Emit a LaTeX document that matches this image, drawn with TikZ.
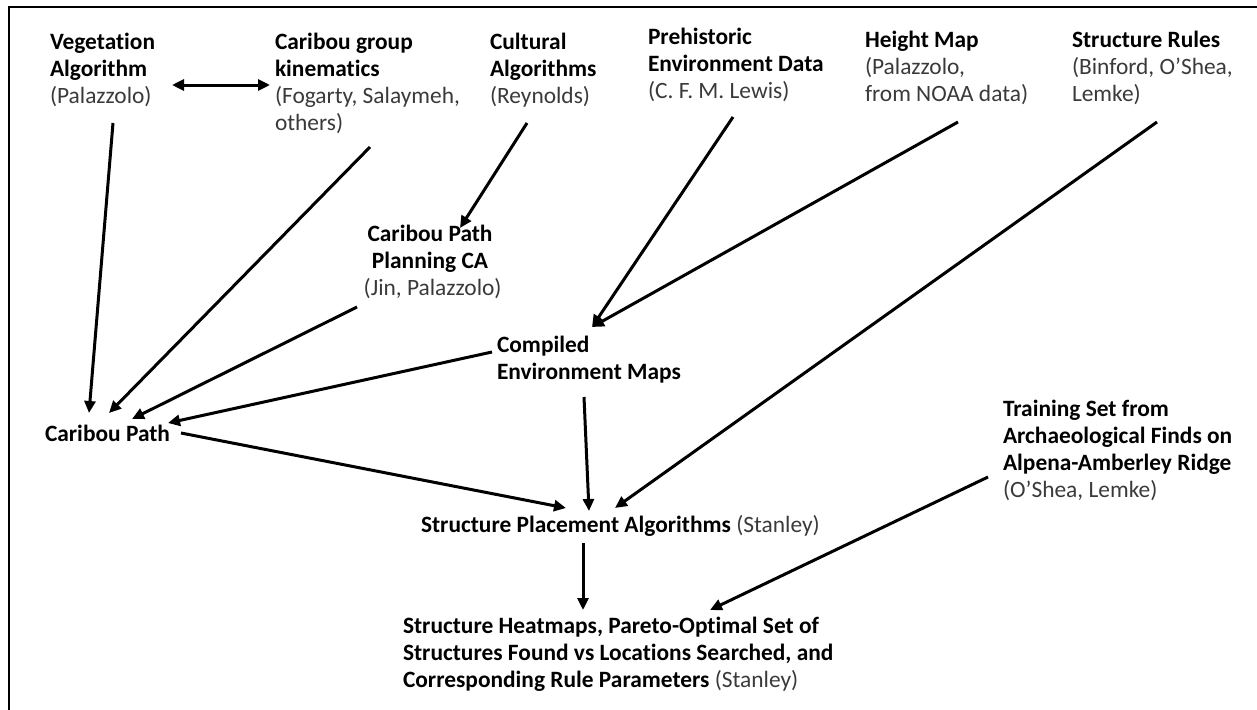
\documentclass[tikz,border=0pt]{standalone}
\usepackage{fontspec}
\setmainfont{Carlito}[Ligatures={NoCommon}]
\usetikzlibrary{arrows.meta}
\definecolor{paren}{HTML}{3A3A3A}
\newcommand{\pr}[1]{\textmd{\color{paren}#1}}
\begin{document}
\begin{tikzpicture}[x=1pt,y=-1pt,
  lbl/.style={inner sep=0pt, outer sep=0pt, align=left, anchor=north west,
    font={\fontsize{23.4}{27}\selectfont\bfseries},
    execute at begin node={\rule{0pt}{20pt}}},
  arr/.style={line width=3pt, -{Triangle[length=12pt,width=11pt]}},
  darr/.style={line width=3pt, {Triangle[length=12pt,width=11pt]}-{Triangle[length=12pt,width=11pt]}}]
\useasboundingbox (0,0) rectangle (1257,709);
\fill[white] (0,0) rectangle (1257,709);
\draw[line width=2.2pt] (9,720) -- (9,7) -- (1270,7);

\node[lbl] (veg) at (50,33) {Vegetation\\Algorithm\\\pr{(Palazzolo)}};
\node[lbl] (kin) at (275,33) {Caribou group\\kinematics\\\pr{(Fogarty, Salaymeh,}\\\pr{others)}};
\node[lbl] (cult) at (490,33) {Cultural\\Algorithms\\\pr{(Reynolds)}};
\node[lbl] (preh) at (648,28) {Prehistoric\\Environment Data\\\pr{(C. F. M. Lewis)}};
\node[lbl] (height) at (865,31) {Height Map\\\pr{(Palazzolo,}\\\pr{from NOAA data)}};
\node[lbl] (rules) at (1072,31) {Structure Rules\\\pr{(Binford, O'Shea,}\\\pr{Lemke)}};
\node[lbl, align=center, anchor=north] (cppca) at (430,225) {Caribou Path\\Planning CA\\\pr{\ (Jin, Palazzolo)}};
\node[lbl] (comp) at (497,336) {Compiled\\Environment Maps};
\node[lbl] (cpath) at (45,421) {Caribou Path};
\node[lbl] (sp) at (421,512) {Structure Placement Algorithms \pr{(Stanley)}};
\node[lbl] (train) at (1003,400) {Training Set from\\Archaeological Finds on\\Alpena-Amberley Ridge\\\pr{(O'Shea, Lemke)}};
\node[lbl] (final) at (403,617) {Structure Heatmaps, Pareto-Optimal Set of\\Structures Found vs Locations Searched, and\\Corresponding Rule Parameters \pr{(Stanley)}};

\draw[darr] ([shift={(122,52)}]veg.north west) -- ([shift={(-5,52)}]kin.north west);
\draw[arr] ([shift={(63,90)}]veg.north west) -- ([shift={(44,-8)}]cpath.north west);
\draw[arr] ([shift={(95,114)}]kin.north west) -- ([shift={(64,-8)}]cpath.north west);
\draw[arr] ([shift={(-73,82)}]cppca.north) -- ([shift={(87,-2)}]cpath.north west);
\draw[arr] ([shift={(-5,16)}]comp.north west) -- ([shift={(123,2)}]cpath.north west);
\draw[arr] ([shift={(37,90)}]cult.north west) -- ([shift={(30,3)}]cppca.north);
\draw[arr] ([shift={(85,89)}]preh.north west) -- ([shift={(95,-9)}]comp.north west);
\draw[arr] ([shift={(93,91)}]height.north west) -- ([shift={(95,-9)}]comp.north west);
\draw[arr] ([shift={(85,91)}]rules.north west) -- ([shift={(194,-4)}]sp.north west);
\draw[arr] ([shift={(87,61)}]comp.north west) -- ([shift={(168,-1)}]sp.north west);
\draw[arr] ([shift={(136,12)}]cpath.north west) -- ([shift={(145,-4)}]sp.north west);
\draw[arr] ([shift={(162,31)}]sp.north west) -- ([shift={(180,-7)}]final.north west);
\draw[arr] ([shift={(-15,77)}]train.north west) -- ([shift={(307,-7)}]final.north west);
\end{tikzpicture}
\end{document}
